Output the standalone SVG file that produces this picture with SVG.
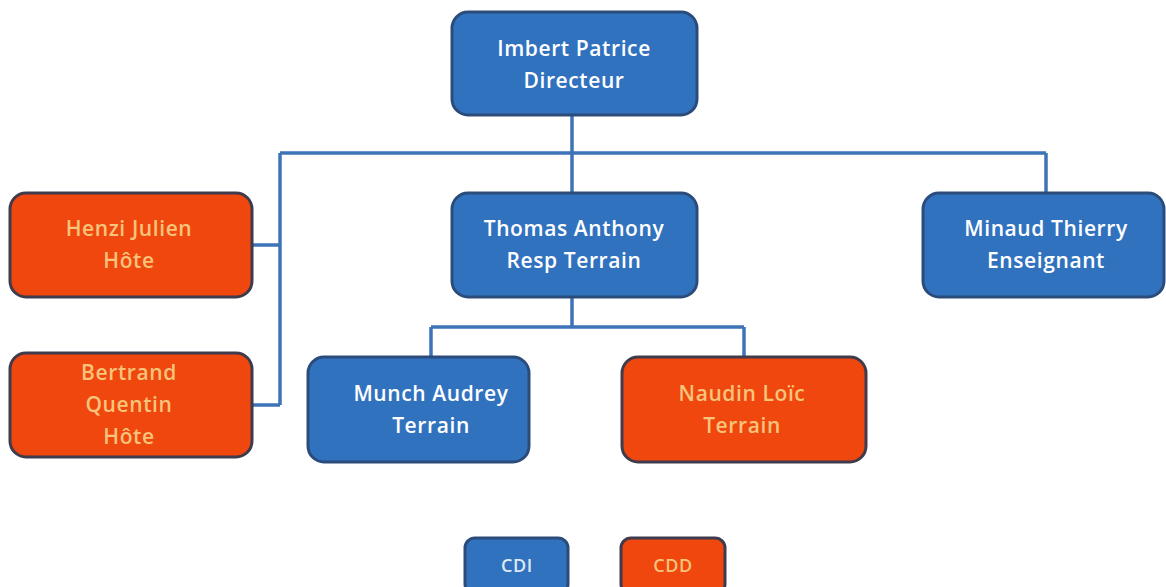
<svg xmlns="http://www.w3.org/2000/svg" width="1166" height="587" viewBox="0 0 1166 587">
<style>
.b{fill:#3172bf;stroke:#2b4c7a;stroke-width:3}
.o{fill:#f0470f;stroke:#3f3a4c;stroke-width:3}
.t{font-family:"Open Sans",sans-serif;font-size:21px;font-weight:600;text-anchor:middle;letter-spacing:0.6px}
.tw{fill:#ffffff}
.ty{fill:#f7c47a}
.c{fill:none;stroke:#3d74b8;stroke-width:3.5}
</style>
<rect width="1166" height="587" fill="#ffffff"/>
<g id="connectors">
<path class="c" d="M572 115V153M280 153H1046M572 153V193M1046 153V193M280 153V405M252 245H280M252 405H280"/>
<path class="c" d="M572 297V327M431 327H744M431 327V358M744 327V358"/>
</g>
<g id="imbert"><rect class="b" x="452" y="12" width="245" height="103" rx="16"/><text class="t tw" x="574" y="56">Imbert Patrice</text><text class="t tw" x="574" y="88">Directeur</text></g>
<g id="henzi"><rect class="o" x="10" y="193" width="242" height="104" rx="16"/><text class="t ty" x="129" y="236">Henzi Julien</text><text class="t ty" x="129" y="268">Hôte</text></g>
<g id="bertrand"><rect class="o" x="10" y="353" width="242" height="104" rx="16"/><text class="t ty" x="129" y="380">Bertrand</text><text class="t ty" x="129" y="412">Quentin</text><text class="t ty" x="129" y="444">Hôte</text></g>
<g id="thomas"><rect class="b" x="452" y="193" width="245" height="104" rx="16"/><text class="t tw" x="574" y="236">Thomas Anthony</text><text class="t tw" x="574" y="268">Resp Terrain</text></g>
<g id="minaud"><rect class="b" x="923" y="193" width="241" height="104" rx="16"/><text class="t tw" x="1046" y="236">Minaud Thierry</text><text class="t tw" x="1046" y="268">Enseignant</text></g>
<g id="munch"><rect class="b" x="308" y="357" width="221" height="105" rx="16"/><text class="t tw" x="431" y="401">Munch Audrey</text><text class="t tw" x="431" y="433">Terrain</text></g>
<g id="naudin"><rect class="o" x="622" y="357" width="244" height="105" rx="16"/><text class="t ty" x="742" y="401">Naudin Loïc</text><text class="t ty" x="742" y="433">Terrain</text></g>
<g id="cdi"><rect class="b" x="465" y="538" width="103" height="56" rx="10"/><text class="t" fill="#dfe9f5" x="517" y="572" style="font-size:18px">CDI</text></g>
<g id="cdd"><rect class="o" x="621" y="538" width="104" height="56" rx="10"/><text class="t ty" x="673" y="572" style="font-size:18px">CDD</text></g>
</svg>
